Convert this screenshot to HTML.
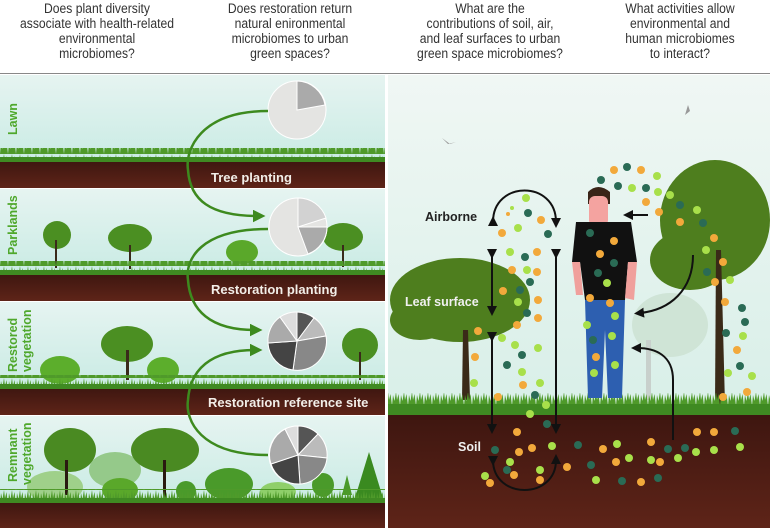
<!DOCTYPE html>
<html><head><meta charset="utf-8"><style>
body{margin:0;background:#fff}
.q{position:absolute;top:0;width:210px;text-align:center;font:13.5px/15px "Liberation Sans",sans-serif;color:#333;transform:scaleX(0.9);transform-origin:center top}
</style></head><body>
<div style="position:relative;width:770px;height:528px;overflow:hidden">
<div class="q" style="left:-8px;top:1px">Does plant diversity<br>associate with health-related<br>environmental<br>microbiomes?</div>
<div class="q" style="left:185px;top:1px">Does restoration return<br>natural enironmental<br>microbiomes to urban<br>green spaces?</div>
<div class="q" style="left:385px;top:1px">What are the<br>contributions of soil, air,<br>and leaf surfaces to urban<br>green space microbiomes?</div>
<div class="q" style="left:575px;top:1px">What activities allow<br>environmental and<br>human microbiomes<br>to interact?</div>
<svg width="770" height="528" style="position:absolute;left:0;top:0" font-family="Liberation Sans,sans-serif">
<defs>
<linearGradient id="sky" x1="0" y1="0" x2="0" y2="1"><stop offset="0" stop-color="#e6f4f1"/><stop offset="1" stop-color="#c9ebe4"/></linearGradient>
<linearGradient id="sky2" x1="0" y1="0" x2="0" y2="1"><stop offset="0" stop-color="#f0f7f4"/><stop offset="1" stop-color="#d8efe8"/></linearGradient>
<linearGradient id="soil" x1="0" y1="0" x2="0" y2="1"><stop offset="0" stop-color="#3e1610"/><stop offset="1" stop-color="#5e2418"/></linearGradient>
<pattern id="grass" width="8" height="14" patternUnits="userSpaceOnUse"><path d="M0 14 L1 3 L2.5 9 L4 0 L5 8 L6.5 2 L8 14Z" fill="#4f9a2a"/></pattern>
<marker id="ga" markerWidth="5" markerHeight="5" refX="2" refY="2.5" orient="auto"><path d="M0 0L5 2.5L0 5Z" fill="#3d8a1e"/></marker>
<marker id="ba" markerWidth="5" markerHeight="5" refX="2" refY="2.5" orient="auto"><path d="M0 0L5 2.5L0 5Z" fill="#111"/></marker>
</defs>
<line x1="0" y1="73.5" x2="770" y2="73.5" stroke="#888"/>
<g>
<rect x="0" y="75" width="385" height="88" fill="url(#sky)"/>
<rect x="0" y="189" width="385" height="86" fill="url(#sky)"/>
<rect x="0" y="302" width="385" height="86" fill="url(#sky)"/>
<rect x="0" y="416" width="385" height="86" fill="url(#sky)"/>
<rect x="0" y="161" width="385" height="27" fill="url(#soil)"/>
<rect x="0" y="274" width="385" height="27" fill="url(#soil)"/>
<rect x="0" y="388" width="385" height="27" fill="url(#soil)"/>
<rect x="0" y="502" width="385" height="26" fill="url(#soil)"/>
</g>
<g fill="#4b8f22">
<circle cx="57" cy="235" r="14"/><rect x="55" y="240" width="2" height="28" fill="#3a2a1a"/>
<ellipse cx="130" cy="238" rx="22" ry="14"/><rect x="129" y="245" width="2" height="24" fill="#3a2a1a"/>
<ellipse cx="242" cy="252" rx="16" ry="12" fill="#5aa82a"/>
<ellipse cx="343" cy="237" rx="20" ry="14"/><rect x="342" y="245" width="2" height="22" fill="#3a2a1a"/>
<ellipse cx="60" cy="370" rx="20" ry="14" fill="#5cae2c"/>
<ellipse cx="127" cy="344" rx="26" ry="18"/><rect x="126" y="350" width="3" height="30" fill="#3a2a1a"/>
<ellipse cx="163" cy="370" rx="16" ry="13" fill="#5cae2c"/>
<ellipse cx="360" cy="345" rx="18" ry="17"/><rect x="359" y="352" width="2" height="28" fill="#3a2a1a"/>
<ellipse cx="55" cy="487" rx="28" ry="16" fill="#9fd08a"/>
<ellipse cx="70" cy="450" rx="26" ry="22" fill="#4a8a22"/><rect x="65" y="460" width="3" height="35" fill="#2a1a10"/>
<ellipse cx="115" cy="470" rx="26" ry="18" fill="#95c98a"/>
<ellipse cx="165" cy="450" rx="34" ry="22" fill="#4a8a22"/><rect x="163" y="460" width="3" height="38" fill="#2a1a10"/>
<ellipse cx="120" cy="490" rx="18" ry="12" fill="#5aa82a"/>
<ellipse cx="186" cy="491" rx="10" ry="10" fill="#4a9a2a"/>
<ellipse cx="229" cy="484" rx="24" ry="16" fill="#4a9a2a"/>
<ellipse cx="278" cy="492" rx="18" ry="10" fill="#8fcf6a"/>
<ellipse cx="323" cy="485" rx="11" ry="12" fill="#4a9a2a"/>
<path d="M342 495L347 475L352 495Z" fill="#4a9a2a"/>
<path d="M355 498L369 452L383 498Z" fill="#3a8a20"/>
</g>
<g>
<rect x="0" y="148" width="385" height="14" fill="url(#grass)"/><rect x="0" y="157" width="385" height="5" fill="#3f8a22"/>
<rect x="0" y="261" width="385" height="14" fill="url(#grass)"/><rect x="0" y="270" width="385" height="5" fill="#3f8a22"/>
<rect x="0" y="375" width="385" height="14" fill="url(#grass)"/><rect x="0" y="384" width="385" height="5" fill="#3f8a22"/>
<rect x="0" y="489" width="385" height="14" fill="url(#grass)"/><rect x="0" y="498" width="385" height="5" fill="#3f8a22"/>
</g>
<g stroke="#fff" stroke-width="1">
<circle cx="297" cy="110" r="29" fill="#e4e4e2"/>
<path d="M297 110L297 81A29 29 0 0 1 325 105Z" fill="#aaa"/>
<circle cx="298" cy="227" r="29" fill="#e4e4e2"/>
<path d="M298 227L327 227A29 29 0 0 1 308 254Z" fill="#aaa"/>
<path d="M298 227L298 198A29 29 0 0 1 326 218Z" fill="#d2d2d2"/>
<circle cx="297" cy="341" r="29" fill="#999"/>
<path d="M297 341L297 312A29 29 0 0 1 314 318Z" fill="#555"/>
<path d="M297 341L314 318A29 29 0 0 1 326 336Z" fill="#bbb"/>
<path d="M297 341L326 336A29 29 0 0 1 293 370Z" fill="#888"/>
<path d="M297 341L293 370A29 29 0 0 1 268 343Z" fill="#444"/>
<path d="M297 341L268 343A29 29 0 0 1 280 317Z" fill="#aaa"/>
<path d="M297 341L280 317A29 29 0 0 1 297 312Z" fill="#ddd"/>
<circle cx="298" cy="455" r="29" fill="#999"/>
<path d="M298 455L298 426A29 29 0 0 1 318 434Z" fill="#555"/>
<path d="M298 455L318 434A29 29 0 0 1 327 458Z" fill="#bbb"/>
<path d="M298 455L327 458A29 29 0 0 1 300 484Z" fill="#888"/>
<path d="M298 455L300 484A29 29 0 0 1 271 464Z" fill="#444"/>
<path d="M298 455L271 464A29 29 0 0 1 285 429Z" fill="#aaa"/>
<path d="M298 455L285 429A29 29 0 0 1 298 426Z" fill="#ddd"/>
</g>
<g fill="none" stroke="#3d8a1e" stroke-width="2.5">
<path d="M268 111 C200 111 185 150 188 170 C190 200 210 216 258 216" marker-end="url(#ga)"/>
<path d="M268 229 C200 229 185 260 188 280 C190 310 210 330 255 330" marker-end="url(#ga)"/>
<path d="M268 455 C200 455 185 420 188 400 C190 370 210 350 255 350" marker-end="url(#ga)"/>
</g>
<g fill="#f2eee8" font-size="13" font-weight="bold">
<text x="211" y="182">Tree planting</text>
<text x="211" y="294">Restoration planting</text>
<text x="208" y="407">Restoration reference site</text>
</g>
<g fill="#4fa82c" font-size="12.5" font-weight="bold">
<text transform="translate(17,135) rotate(-90)">Lawn</text>
<text transform="translate(17,255) rotate(-90)">Parklands</text>
<text transform="translate(17,372) rotate(-90)">Restored</text>
<text transform="translate(31,372) rotate(-90)">vegetation</text>
<text transform="translate(17,482) rotate(-90)">Remnant</text>
<text transform="translate(31,485) rotate(-90)">vegetation</text>
</g>
<rect x="385" y="74" width="3" height="454" fill="#fff"/>
<rect x="388" y="75" width="382" height="340" fill="url(#sky2)"/>
<rect x="388" y="415" width="382" height="113" fill="url(#soil)"/>
<ellipse cx="670" cy="325" rx="38" ry="32" fill="#cfe4d6"/><rect x="646" y="340" width="5" height="60" fill="#c8d0cc"/>
<g fill="#4e7e1e">
<ellipse cx="460" cy="300" rx="70" ry="42"/>
<ellipse cx="420" cy="320" rx="30" ry="20"/>
<path d="M463 330 L468 330 L470 400 L462 400Z" fill="#3a2a18"/>
<ellipse cx="715" cy="220" rx="55" ry="60"/>
<ellipse cx="690" cy="260" rx="40" ry="30"/>
<path d="M716 250 L721 250 L725 405 L715 405Z" fill="#3a2a18"/>
</g>
<rect x="388" y="393" width="382" height="14" fill="url(#grass)"/><rect x="388" y="404" width="382" height="11" fill="#3f8a22"/>
<path d="M588 192 q10 -10 22 0 l0 12 l-22 0z" fill="#3a2418"/>
<rect x="589" y="196" width="19" height="30" rx="6" fill="#f4a3a0"/>
<path d="M576 222 L631 222 L637 262 L628 262 L625 300 L585 300 L580 262 L572 262Z" fill="#111"/>
<path d="M572 262 L580 262 L583 295 L576 295Z M628 262 L637 262 L634 300 L625 298Z" fill="#f0a09c"/>
<path d="M585 300 L625 300 L622 398 L608 398 L605 330 L602 398 L588 398Z" fill="#2d5fb0"/>
<g>
<circle cx="526" cy="198" r="4" fill="#a8e04a"/><circle cx="528" cy="213" r="4" fill="#2a6b55"/><circle cx="541" cy="220" r="4" fill="#f2a93b"/><circle cx="548" cy="234" r="4" fill="#2a6b55"/><circle cx="502" cy="233" r="4" fill="#f2a93b"/><circle cx="518" cy="228" r="4" fill="#a8e04a"/><circle cx="512" cy="208" r="2" fill="#a8e04a"/><circle cx="508" cy="214" r="2" fill="#f2a93b"/>
<circle cx="510" cy="252" r="4" fill="#a8e04a"/><circle cx="525" cy="257" r="4" fill="#2a6b55"/><circle cx="537" cy="252" r="4" fill="#f2a93b"/><circle cx="512" cy="270" r="4" fill="#f2a93b"/><circle cx="527" cy="270" r="4" fill="#a8e04a"/><circle cx="537" cy="272" r="4" fill="#f2a93b"/><circle cx="530" cy="282" r="4" fill="#2a6b55"/><circle cx="503" cy="291" r="4" fill="#f2a93b"/><circle cx="520" cy="290" r="4" fill="#2a6b55"/><circle cx="518" cy="302" r="4" fill="#a8e04a"/><circle cx="538" cy="300" r="4" fill="#f2a93b"/><circle cx="527" cy="313" r="4" fill="#2a6b55"/><circle cx="538" cy="318" r="4" fill="#f2a93b"/><circle cx="517" cy="325" r="4" fill="#f2a93b"/><circle cx="502" cy="338" r="4" fill="#a8e04a"/><circle cx="515" cy="345" r="4" fill="#a8e04a"/><circle cx="522" cy="355" r="4" fill="#2a6b55"/><circle cx="538" cy="348" r="4" fill="#a8e04a"/><circle cx="507" cy="365" r="4" fill="#2a6b55"/><circle cx="522" cy="372" r="4" fill="#a8e04a"/><circle cx="523" cy="385" r="4" fill="#f2a93b"/><circle cx="540" cy="383" r="4" fill="#a8e04a"/><circle cx="535" cy="395" r="4" fill="#2a6b55"/><circle cx="478" cy="331" r="4" fill="#f2a93b"/><circle cx="475" cy="357" r="4" fill="#f2a93b"/><circle cx="474" cy="383" r="4" fill="#a8e04a"/><circle cx="498" cy="397" r="4" fill="#f2a93b"/><circle cx="546" cy="405" r="4" fill="#a8e04a"/>
<circle cx="614" cy="170" r="4" fill="#f2a93b"/><circle cx="627" cy="167" r="4" fill="#2a6b55"/><circle cx="641" cy="170" r="4" fill="#f2a93b"/><circle cx="601" cy="180" r="4" fill="#2a6b55"/><circle cx="618" cy="186" r="4" fill="#2a6b55"/><circle cx="632" cy="188" r="4" fill="#a8e04a"/><circle cx="646" cy="188" r="4" fill="#2a6b55"/><circle cx="657" cy="176" r="4" fill="#a8e04a"/><circle cx="658" cy="192" r="4" fill="#a8e04a"/><circle cx="670" cy="195" r="4" fill="#a8e04a"/><circle cx="646" cy="202" r="4" fill="#f2a93b"/><circle cx="659" cy="212" r="4" fill="#f2a93b"/><circle cx="680" cy="205" r="4" fill="#2a6b55"/><circle cx="697" cy="210" r="4" fill="#a8e04a"/><circle cx="680" cy="222" r="4" fill="#f2a93b"/><circle cx="703" cy="223" r="4" fill="#2a6b55"/><circle cx="714" cy="238" r="4" fill="#f2a93b"/><circle cx="706" cy="250" r="4" fill="#a8e04a"/><circle cx="723" cy="262" r="4" fill="#f2a93b"/><circle cx="707" cy="272" r="4" fill="#2a6b55"/><circle cx="715" cy="282" r="4" fill="#f2a93b"/><circle cx="730" cy="280" r="4" fill="#a8e04a"/><circle cx="725" cy="302" r="4" fill="#f2a93b"/><circle cx="742" cy="308" r="4" fill="#2a6b55"/><circle cx="745" cy="322" r="4" fill="#2a6b55"/><circle cx="743" cy="336" r="4" fill="#a8e04a"/><circle cx="726" cy="333" r="4" fill="#2a6b55"/><circle cx="737" cy="350" r="4" fill="#f2a93b"/><circle cx="740" cy="366" r="4" fill="#2a6b55"/><circle cx="752" cy="376" r="4" fill="#a8e04a"/><circle cx="728" cy="373" r="4" fill="#a8e04a"/><circle cx="747" cy="392" r="4" fill="#f2a93b"/><circle cx="723" cy="397" r="4" fill="#f2a93b"/>
<circle cx="590" cy="233" r="4" fill="#2a6b55"/><circle cx="614" cy="241" r="4" fill="#f2a93b"/><circle cx="600" cy="254" r="4" fill="#f2a93b"/><circle cx="598" cy="273" r="4" fill="#2a6b55"/><circle cx="614" cy="263" r="4" fill="#2a6b55"/><circle cx="607" cy="283" r="4" fill="#a8e04a"/><circle cx="590" cy="298" r="4" fill="#f2a93b"/><circle cx="610" cy="303" r="4" fill="#f2a93b"/><circle cx="587" cy="325" r="4" fill="#a8e04a"/><circle cx="615" cy="316" r="4" fill="#a8e04a"/><circle cx="593" cy="340" r="4" fill="#2a6b55"/><circle cx="612" cy="336" r="4" fill="#a8e04a"/><circle cx="596" cy="357" r="4" fill="#f2a93b"/><circle cx="615" cy="365" r="4" fill="#a8e04a"/><circle cx="594" cy="373" r="4" fill="#a8e04a"/>
<circle cx="517" cy="432" r="4" fill="#f2a93b"/><circle cx="547" cy="424" r="4" fill="#2a6b55"/><circle cx="530" cy="414" r="4" fill="#a8e04a"/><circle cx="552" cy="446" r="4" fill="#a8e04a"/><circle cx="532" cy="448" r="4" fill="#f2a93b"/><circle cx="519" cy="452" r="4" fill="#f2a93b"/><circle cx="495" cy="450" r="4" fill="#2a6b55"/><circle cx="510" cy="462" r="4" fill="#a8e04a"/><circle cx="507" cy="470" r="4" fill="#2a6b55"/><circle cx="514" cy="475" r="4" fill="#f2a93b"/><circle cx="540" cy="470" r="4" fill="#a8e04a"/><circle cx="540" cy="480" r="4" fill="#f2a93b"/><circle cx="485" cy="476" r="4" fill="#a8e04a"/><circle cx="490" cy="483" r="4" fill="#f2a93b"/><circle cx="567" cy="467" r="4" fill="#f2a93b"/><circle cx="578" cy="445" r="4" fill="#2a6b55"/><circle cx="591" cy="465" r="4" fill="#2a6b55"/><circle cx="596" cy="480" r="4" fill="#a8e04a"/><circle cx="603" cy="449" r="4" fill="#f2a93b"/><circle cx="616" cy="462" r="4" fill="#f2a93b"/><circle cx="617" cy="444" r="4" fill="#a8e04a"/><circle cx="629" cy="458" r="4" fill="#a8e04a"/><circle cx="622" cy="481" r="4" fill="#2a6b55"/><circle cx="641" cy="482" r="4" fill="#f2a93b"/><circle cx="651" cy="460" r="4" fill="#a8e04a"/><circle cx="651" cy="442" r="4" fill="#f2a93b"/><circle cx="658" cy="478" r="4" fill="#2a6b55"/><circle cx="660" cy="462" r="4" fill="#f2a93b"/><circle cx="668" cy="449" r="4" fill="#2a6b55"/><circle cx="678" cy="458" r="4" fill="#a8e04a"/><circle cx="685" cy="448" r="4" fill="#2a6b55"/><circle cx="697" cy="432" r="4" fill="#f2a93b"/><circle cx="696" cy="452" r="4" fill="#a8e04a"/><circle cx="714" cy="432" r="4" fill="#f2a93b"/><circle cx="714" cy="450" r="4" fill="#a8e04a"/><circle cx="735" cy="431" r="4" fill="#2a6b55"/><circle cx="740" cy="447" r="4" fill="#a8e04a"/>
</g>
<g fill="none" stroke="#111" stroke-width="2">
<path d="M493 222 C493 180 556 180 556 222" marker-start="url(#ba)" marker-end="url(#ba)"/>
<line x1="492" y1="253" x2="492" y2="310" marker-start="url(#ba)" marker-end="url(#ba)"/>
<line x1="492" y1="336" x2="492" y2="428" marker-start="url(#ba)" marker-end="url(#ba)"/>
<line x1="556" y1="253" x2="556" y2="428" marker-start="url(#ba)" marker-end="url(#ba)"/>
<path d="M493 460 C493 500 556 500 556 460" marker-start="url(#ba)" marker-end="url(#ba)"/>
<line x1="648" y1="215" x2="629" y2="215" marker-end="url(#ba)"/>
<path d="M693 255 C693 290 670 310 640 313" marker-end="url(#ba)"/>
<path d="M673 440 L673 380 C673 355 655 348 637 348" marker-end="url(#ba)"/>
</g>
<path d="M442 138 l6 6 l8 -2 l-6 2z M688 105 l-3 10 l5 -4z" fill="#999"/>
<g font-size="12.5" font-weight="bold">
<text x="425" y="221" fill="#222">Airborne</text>
<text x="405" y="306" fill="#f0f0f0">Leaf surface</text>
<text x="458" y="451" fill="#f0f0f0">Soil</text>
</g>
</svg>
</div>
</body></html>
